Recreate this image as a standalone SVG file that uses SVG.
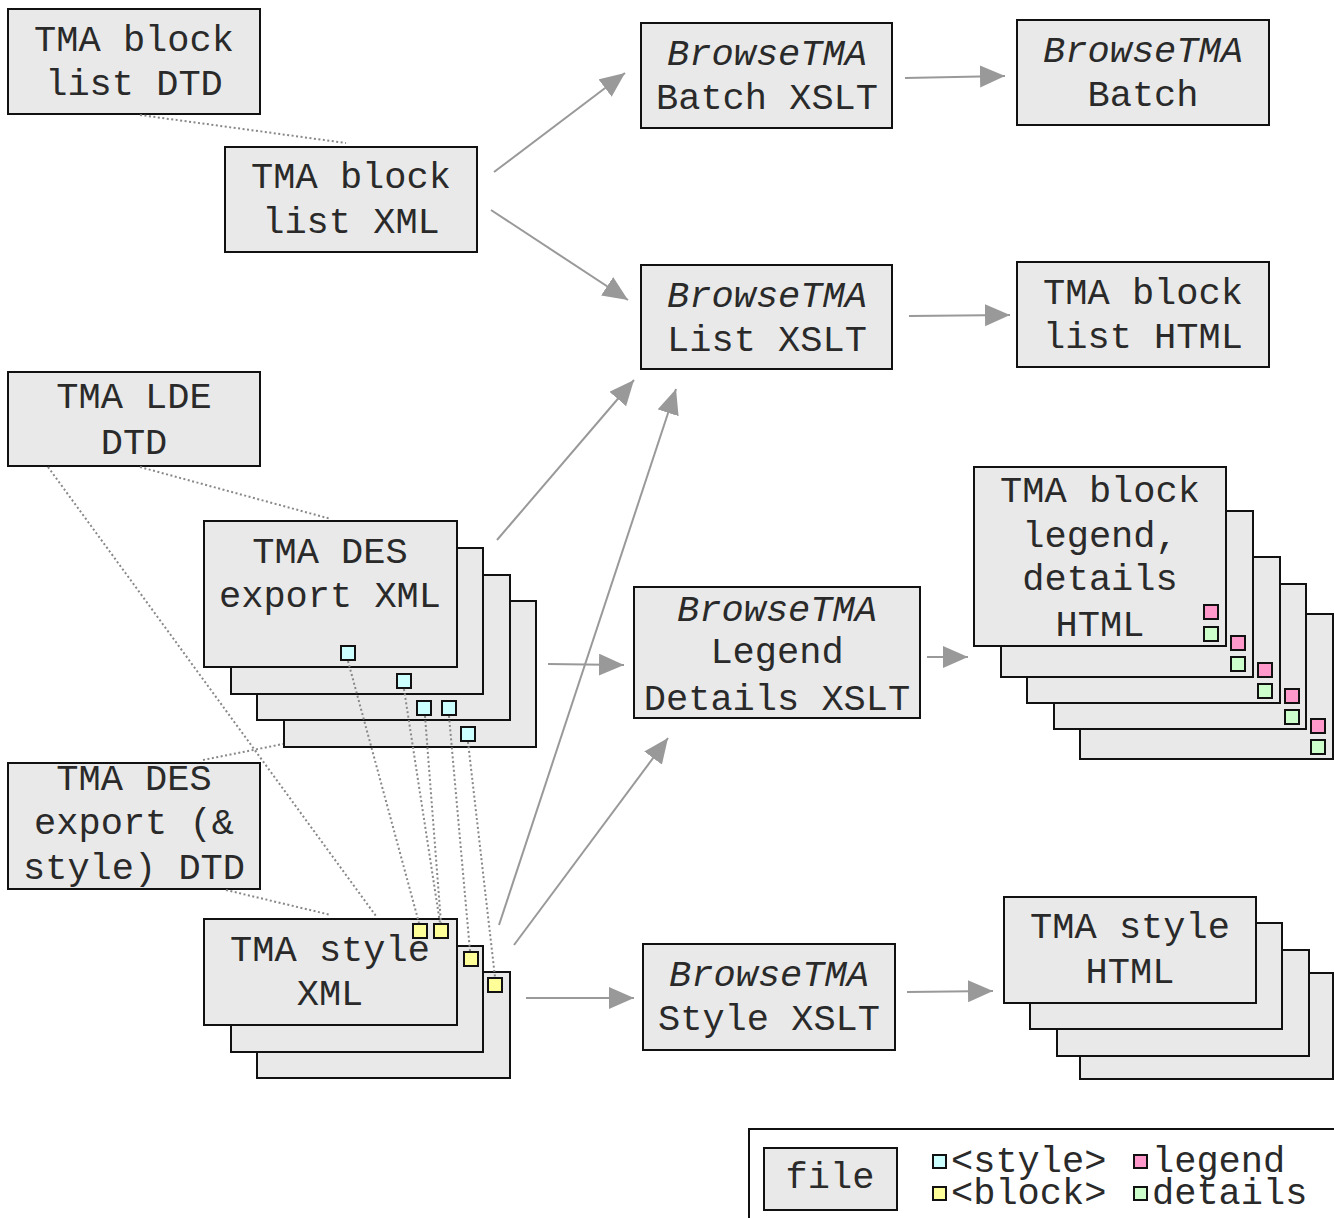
<svg xmlns="http://www.w3.org/2000/svg" width="1334" height="1218" viewBox="0 0 1334 1218">
<defs>
<marker id="ah" markerUnits="userSpaceOnUse" markerWidth="26" markerHeight="24" refX="25" refY="11" orient="auto">
<path d="M0,0 L25,11 L0,22 z" fill="#999"/>
</marker>
<style>
.box{fill:#e9e9e9;stroke:#111;stroke-width:2}
.t{font-family:"Liberation Mono","Courier New",monospace;font-size:37px;fill:#2a2a2a;text-anchor:middle}
.i{font-style:italic}
.lt{font-family:"Liberation Mono","Courier New",monospace;font-size:37px;fill:#2a2a2a}
.arr{stroke:#999;stroke-width:2;fill:none;marker-end:url(#ah)}
.dot{stroke:#888;stroke-width:2;fill:none;stroke-dasharray:2 2.5}
.c{fill:#ccffff;stroke:#111;stroke-width:2}
.y{fill:#ffff99;stroke:#111;stroke-width:2}
.p{fill:#ff99cc;stroke:#111;stroke-width:2}
.g{fill:#ccffcc;stroke:#111;stroke-width:2}
</style>
</defs>
<rect width="1334" height="1218" fill="#fff"/>

<g id="block-list-dtd">
<rect class="box" x="8" y="9" width="252" height="105"/>
<text class="t" x="134" y="51">TMA block</text>
<text class="t" x="134" y="95">list DTD</text>
</g>

<g id="block-list-xml">
<rect class="box" x="225" y="147" width="252" height="105"/>
<text class="t" x="351" y="188">TMA block</text>
<text class="t" x="351" y="233">list XML</text>
</g>

<g id="batch-xslt">
<rect class="box" x="641" y="23" width="251" height="105"/>
<text class="t i" x="767" y="65">BrowseTMA</text>
<text class="t" x="767" y="109">Batch XSLT</text>
</g>

<g id="batch">
<rect class="box" x="1017" y="20" width="252" height="105"/>
<text class="t i" x="1143" y="62">BrowseTMA</text>
<text class="t" x="1143" y="106">Batch</text>
</g>

<g id="list-xslt">
<rect class="box" x="641" y="265" width="251" height="104"/>
<text class="t i" x="767" y="307">BrowseTMA</text>
<text class="t" x="767" y="351">List XSLT</text>
</g>

<g id="block-list-html">
<rect class="box" x="1017" y="262" width="252" height="105"/>
<text class="t" x="1143" y="304">TMA block</text>
<text class="t" x="1143" y="348">list HTML</text>
</g>

<g id="lde-dtd">
<rect class="box" x="8" y="372" width="252" height="94"/>
<text class="t" x="134" y="408">TMA LDE</text>
<text class="t" x="134" y="454">DTD</text>
</g>

<g id="des-export-xml">
<rect class="box" x="284" y="601" width="252" height="146"/>
<rect class="box" x="257" y="575" width="253" height="145"/>
<rect class="box" x="231" y="548" width="252" height="146"/>
<rect class="box" x="204" y="521" width="253" height="146"/>
<text class="t" x="330" y="563">TMA DES</text>
<text class="t" x="330" y="607">export XML</text>
<rect class="c" x="341" y="646" width="14" height="14"/>
<rect class="c" x="397" y="674" width="14" height="14"/>
<rect class="c" x="417" y="701" width="14" height="14"/>
<rect class="c" x="442" y="701" width="14" height="14"/>
<rect class="c" x="461" y="727" width="14" height="14"/>
</g>

<g id="des-dtd">
<rect class="box" x="8" y="763" width="252" height="126"/>
<text class="t" x="134" y="790">TMA DES</text>
<text class="t" x="134" y="834">export (&amp;</text>
<text class="t" x="134" y="879">style) DTD</text>
</g>

<g id="style-xml">
<rect class="box" x="257" y="972" width="253" height="106"/>
<rect class="box" x="231" y="946" width="252" height="106"/>
<rect class="box" x="204" y="919" width="253" height="106"/>
<text class="t" x="330" y="961">TMA style</text>
<text class="t" x="330" y="1005">XML</text>
<rect class="y" x="413" y="924" width="14" height="14"/>
<rect class="y" x="434" y="924" width="14" height="14"/>
<rect class="y" x="464" y="952" width="14" height="14"/>
<rect class="y" x="488" y="978" width="14" height="14"/>
</g>

<g id="legend-details-xslt">
<rect class="box" x="634" y="587" width="286" height="131"/>
<text class="t i" x="777" y="621">BrowseTMA</text>
<text class="t" x="777" y="663">Legend</text>
<text class="t" x="777" y="710">Details XSLT</text>
</g>

<g id="legend-details-html">
<rect class="box" x="1080" y="614" width="253" height="145"/>
<rect class="box" x="1054" y="584" width="252" height="145"/>
<rect class="box" x="1027" y="557" width="253" height="146"/>
<rect class="box" x="1001" y="511" width="252" height="166"/>
<rect class="box" x="974" y="467" width="252" height="179"/>
<text class="t" x="1100" y="502">TMA block</text>
<text class="t" x="1100" y="547">legend,</text>
<text class="t" x="1100" y="590">details</text>
<text class="t" x="1100" y="636">HTML</text>
<rect class="p" x="1204" y="605" width="14" height="14"/>
<rect class="g" x="1204" y="627" width="14" height="14"/>
<rect class="p" x="1231" y="636" width="14" height="14"/>
<rect class="g" x="1231" y="657" width="14" height="14"/>
<rect class="p" x="1258" y="663" width="14" height="14"/>
<rect class="g" x="1258" y="684" width="14" height="14"/>
<rect class="p" x="1285" y="689" width="14" height="14"/>
<rect class="g" x="1285" y="710" width="14" height="14"/>
<rect class="p" x="1311" y="719" width="14" height="14"/>
<rect class="g" x="1311" y="740" width="14" height="14"/>
</g>

<g id="style-xslt">
<rect class="box" x="643" y="944" width="252" height="106"/>
<text class="t i" x="769" y="986">BrowseTMA</text>
<text class="t" x="769" y="1030">Style XSLT</text>
</g>

<g id="style-html">
<rect class="box" x="1080" y="973" width="253" height="106"/>
<rect class="box" x="1057" y="950" width="252" height="106"/>
<rect class="box" x="1030" y="923" width="252" height="106"/>
<rect class="box" x="1004" y="897" width="252" height="106"/>
<text class="t" x="1130" y="938">TMA style</text>
<text class="t" x="1130" y="983">HTML</text>
</g>

<g id="connectors">
<line class="dot" x1="140" y1="115" x2="346" y2="143"/>
<line class="dot" x1="140" y1="467" x2="331" y2="519"/>
<line class="dot" x1="48" y1="467" x2="376" y2="916"/>
<line class="dot" x1="203" y1="760" x2="283" y2="744"/>
<line class="dot" x1="226" y1="890" x2="331" y2="915"/>
<line class="dot" x1="348" y1="661" x2="419" y2="923"/>
<line class="dot" x1="404" y1="689" x2="440" y2="923"/>
<line class="dot" x1="425" y1="716" x2="441" y2="923"/>
<line class="dot" x1="449" y1="716" x2="470" y2="951"/>
<line class="dot" x1="468" y1="742" x2="495" y2="977"/>
<line class="arr" x1="494" y1="172" x2="625" y2="73"/>
<line class="arr" x1="491" y1="210" x2="628" y2="300"/>
<line class="arr" x1="905" y1="78" x2="1005" y2="76"/>
<line class="arr" x1="909" y1="316" x2="1010" y2="315"/>
<line class="arr" x1="497" y1="540" x2="634" y2="380"/>
<line class="arr" x1="499" y1="925" x2="676" y2="389"/>
<line class="arr" x1="514" y1="945" x2="668" y2="738"/>
<line class="arr" x1="548" y1="664" x2="624" y2="665"/>
<line class="arr" x1="927" y1="657" x2="968" y2="657"/>
<line class="arr" x1="526" y1="998" x2="634" y2="998"/>
<line class="arr" x1="907" y1="992" x2="993" y2="991"/>
</g>

<g id="legend">
<rect x="749" y="1129" width="600" height="100" fill="#fff" stroke="#111" stroke-width="2"/>
<rect class="box" x="764" y="1148" width="133" height="62"/>
<text class="t" x="830" y="1188">file</text>
<rect class="c" x="933" y="1155" width="13" height="13"/>
<text class="lt" x="951" y="1172">&lt;style&gt;</text>
<rect class="p" x="1134" y="1155" width="13" height="13"/>
<text class="lt" x="1152" y="1172">legend</text>
<rect class="y" x="933" y="1187" width="13" height="13"/>
<text class="lt" x="951" y="1204">&lt;block&gt;</text>
<rect class="g" x="1134" y="1187" width="13" height="13"/>
<text class="lt" x="1152" y="1204">details</text>
</g>
</svg>
